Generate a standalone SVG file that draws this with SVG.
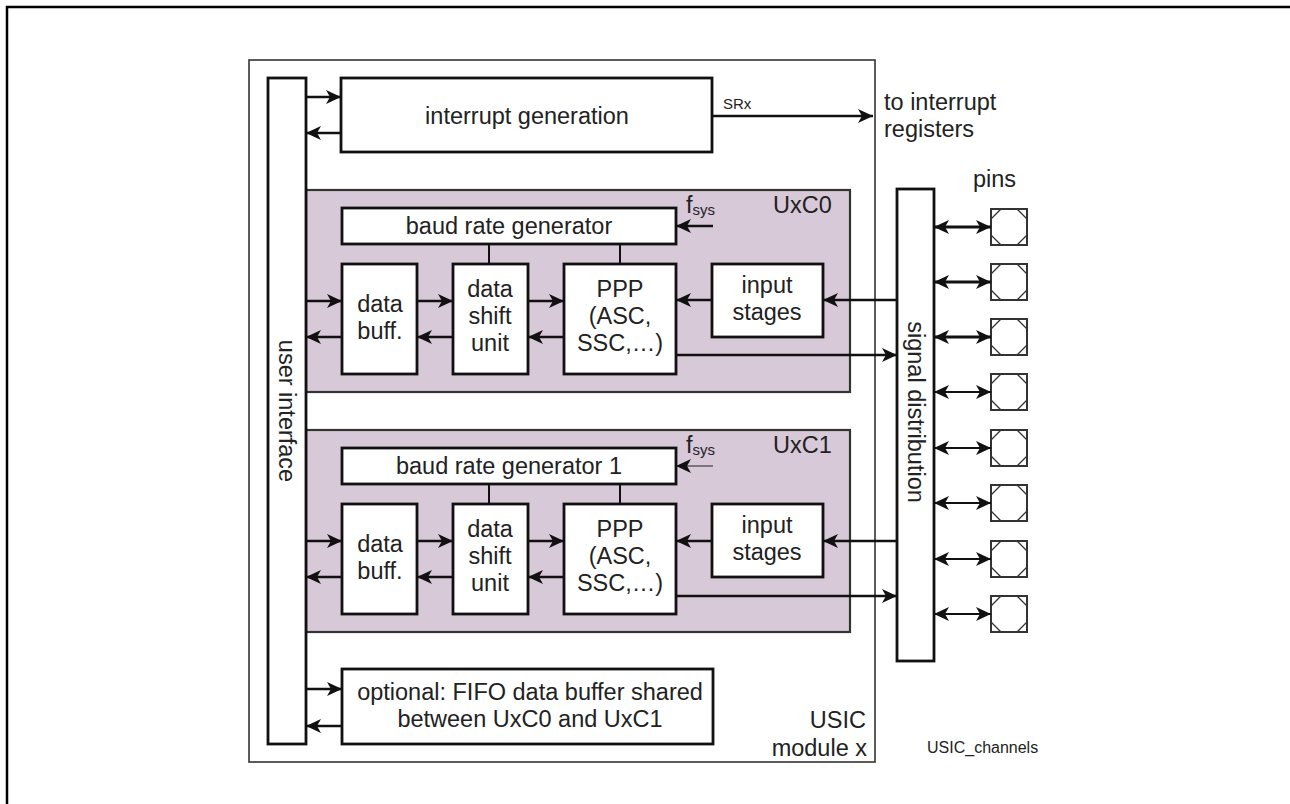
<svg xmlns="http://www.w3.org/2000/svg" width="1290" height="804" viewBox="0 0 1290 804">
<style>
text{font-family:"Liberation Sans",Arial,sans-serif;font-size:23.5px;fill:#222}
.c{text-anchor:middle}
.box{fill:#fff;stroke:#111;stroke-width:2.8}
.ch{fill:#d8c9d8;stroke:#333;stroke-width:2.2}
.ln{fill:none;stroke:#111;stroke-width:2.5}
.thin{fill:none;stroke:#222;stroke-width:1.2}
.pin{fill:#fff;stroke:#333;stroke-width:2}
.oct{fill:none;stroke:#333;stroke-width:1.3}
.sm{font-size:15px}
</style>
<defs>
<marker id="ah" viewBox="0 0 15 14" refX="15" refY="7" markerWidth="15" markerHeight="14" markerUnits="userSpaceOnUse" orient="auto-start-reverse">
<path d="M0,0 L15,7 L0,14 L4,7 z" fill="#111"/>
</marker>
<g id="pinsym">
<rect class="pin" x="0" y="-18" width="36" height="36"/>
<polygon class="oct" points="10,-18 26,-18 36,-8 36,8 26,18 10,18 0,8 0,-8"/>
</g>
</defs>
<rect x="7" y="7" width="1320" height="830" fill="none" stroke="#000" stroke-width="2.5"/>

<g id="usic-module">
<rect x="249" y="60" width="626" height="702" fill="#fff" stroke="#333" stroke-width="1.6"/>
<text x="866" y="728" text-anchor="end">USIC</text>
<text x="867" y="756" text-anchor="end">module x</text>
</g>

<g id="uxc0">
<rect class="ch" x="306" y="190" width="544" height="202"/>
<text x="773" y="213">UxC0</text>
<text x="686" y="213">f<tspan class="sm" dy="2">sys</tspan></text>
</g>
<g id="uxc1">
<rect class="ch" x="306" y="430" width="544" height="202"/>
<text x="773" y="453">UxC1</text>
<text x="686" y="453">f<tspan class="sm" dy="2">sys</tspan></text>
</g>

<g id="user-interface">
<rect class="box" x="268" y="78" width="38" height="666"/>
<text class="c" transform="translate(287,411) rotate(90)" dominant-baseline="central">user interface</text>
</g>

<g id="interrupt-generation">
<rect class="box" x="341" y="78" width="371" height="74"/>
<text class="c" x="527" y="124">interrupt generation</text>
</g>

<g id="baud0">
<rect class="box" x="342" y="208" width="334" height="36"/>
<text class="c" x="509" y="234">baud rate generator</text>
</g>
<g id="databuff0">
<rect class="box" x="342" y="264" width="75" height="110"/>
<text class="c" x="380" y="312">data</text>
<text class="c" x="380" y="339">buff.</text>
</g>
<g id="shift0">
<rect class="box" x="453" y="264" width="75" height="110"/>
<text class="c" x="490" y="297">data</text>
<text class="c" x="490" y="324">shift</text>
<text class="c" x="490" y="351">unit</text>
</g>
<g id="ppp0">
<rect class="box" x="564" y="264" width="112" height="110"/>
<text class="c" x="620" y="297">PPP</text>
<text class="c" x="620" y="324">(ASC,</text>
<text class="c" x="620" y="351">SSC,…)</text>
</g>
<g id="input0">
<rect class="box" x="712" y="264" width="111" height="73"/>
<text class="c" x="767" y="293">input</text>
<text class="c" x="767" y="320">stages</text>
</g>

<g id="baud1">
<rect class="box" x="342" y="448" width="334" height="36"/>
<text class="c" x="509" y="474">baud rate generator 1</text>
</g>
<g id="databuff1">
<rect class="box" x="342" y="504" width="75" height="110"/>
<text class="c" x="380" y="552">data</text>
<text class="c" x="380" y="579">buff.</text>
</g>
<g id="shift1">
<rect class="box" x="453" y="504" width="75" height="110"/>
<text class="c" x="490" y="537">data</text>
<text class="c" x="490" y="564">shift</text>
<text class="c" x="490" y="591">unit</text>
</g>
<g id="ppp1">
<rect class="box" x="564" y="504" width="112" height="110"/>
<text class="c" x="620" y="537">PPP</text>
<text class="c" x="620" y="564">(ASC,</text>
<text class="c" x="620" y="591">SSC,…)</text>
</g>
<g id="input1">
<rect class="box" x="712" y="504" width="111" height="73"/>
<text class="c" x="767" y="533">input</text>
<text class="c" x="767" y="560">stages</text>
</g>

<g id="fifo">
<rect class="box" x="342" y="669" width="371" height="75"/>
<text class="c" x="530" y="700">optional: FIFO data buffer shared</text>
<text class="c" x="530" y="727">between UxC0 and UxC1</text>
</g>

<g id="signal-distribution">
<rect class="box" x="897" y="189" width="37" height="472"/>
<text class="c" transform="translate(915.5,412) rotate(90)" dominant-baseline="central">signal distribution</text>
</g>

<g id="pins">
<text x="973" y="187">pins</text>
<use href="#pinsym" x="991" y="227"/>
<use href="#pinsym" x="991" y="282"/>
<use href="#pinsym" x="991" y="337"/>
<use href="#pinsym" x="991" y="392"/>
<use href="#pinsym" x="991" y="448"/>
<use href="#pinsym" x="991" y="503"/>
<use href="#pinsym" x="991" y="559"/>
<use href="#pinsym" x="991" y="614"/>
</g>

<g id="labels">
<text class="sm" x="723" y="109">SRx</text>
<text x="884" y="110">to interrupt</text>
<text x="884" y="137">registers</text>
<text x="927" y="753" style="font-size:16px">USIC_channels</text>
</g>

<g id="connectors">
<line class="ln" x1="306" y1="97" x2="341" y2="97" marker-end="url(#ah)"/>
<line class="ln" x1="341" y1="133" x2="306" y2="133" marker-end="url(#ah)"/>
<line class="ln" x1="712" y1="116" x2="873" y2="116" marker-end="url(#ah)"/>

<line class="ln" x1="489" y1="244" x2="489" y2="264" style="stroke-width:2"/>
<line class="ln" x1="620" y1="244" x2="620" y2="264" style="stroke-width:2"/>
<line class="ln" x1="713" y1="226" x2="676" y2="226" marker-end="url(#ah)"/>
<line class="ln" x1="306" y1="301" x2="342" y2="301" marker-end="url(#ah)"/>
<line class="ln" x1="417" y1="301" x2="453" y2="301" marker-end="url(#ah)"/>
<line class="ln" x1="528" y1="301" x2="564" y2="301" marker-end="url(#ah)"/>
<line class="ln" x1="342" y1="337" x2="306" y2="337" marker-end="url(#ah)"/>
<line class="ln" x1="453" y1="337" x2="417" y2="337" marker-end="url(#ah)"/>
<line class="ln" x1="564" y1="337" x2="528" y2="337" marker-end="url(#ah)"/>
<line class="ln" x1="712" y1="300" x2="676" y2="300" marker-end="url(#ah)"/>
<line class="ln" x1="897" y1="300" x2="823" y2="300" marker-end="url(#ah)"/>
<line class="ln" x1="676" y1="355" x2="897" y2="355" marker-end="url(#ah)"/>

<line class="ln" x1="489" y1="484" x2="489" y2="504" style="stroke-width:2"/>
<line class="ln" x1="620" y1="484" x2="620" y2="504" style="stroke-width:2"/>
<line class="thin" x1="713" y1="466" x2="676" y2="466" marker-end="url(#ah)"/>
<line class="ln" x1="306" y1="541" x2="342" y2="541" marker-end="url(#ah)"/>
<line class="ln" x1="417" y1="541" x2="453" y2="541" marker-end="url(#ah)"/>
<line class="ln" x1="528" y1="541" x2="564" y2="541" marker-end="url(#ah)"/>
<line class="ln" x1="342" y1="577" x2="306" y2="577" marker-end="url(#ah)"/>
<line class="ln" x1="453" y1="577" x2="417" y2="577" marker-end="url(#ah)"/>
<line class="ln" x1="564" y1="577" x2="528" y2="577" marker-end="url(#ah)"/>
<line class="ln" x1="712" y1="541" x2="676" y2="541" marker-end="url(#ah)"/>
<line class="ln" x1="897" y1="541" x2="823" y2="541" marker-end="url(#ah)"/>
<line class="ln" x1="676" y1="596" x2="897" y2="596" marker-end="url(#ah)"/>

<line class="ln" x1="306" y1="689" x2="342" y2="689" marker-end="url(#ah)"/>
<line class="ln" x1="342" y1="726" x2="306" y2="726" marker-end="url(#ah)"/>

<line class="ln" x1="934" y1="227" x2="991" y2="227" marker-start="url(#ah)" marker-end="url(#ah)" style="stroke-width:3"/>
<line class="ln" x1="934" y1="282" x2="991" y2="282" marker-start="url(#ah)" marker-end="url(#ah)" style="stroke-width:3"/>
<line class="ln" x1="934" y1="337" x2="991" y2="337" marker-start="url(#ah)" marker-end="url(#ah)" style="stroke-width:3"/>
<line class="ln" x1="934" y1="392" x2="991" y2="392" marker-start="url(#ah)" marker-end="url(#ah)" style="stroke-width:2.2"/>
<line class="ln" x1="934" y1="448" x2="991" y2="448" marker-start="url(#ah)" marker-end="url(#ah)" style="stroke-width:2.2"/>
<line class="ln" x1="934" y1="503" x2="991" y2="503" marker-start="url(#ah)" marker-end="url(#ah)" style="stroke-width:2.2"/>
<line class="ln" x1="934" y1="559" x2="991" y2="559" marker-start="url(#ah)" marker-end="url(#ah)" style="stroke-width:2.2"/>
<line class="ln" x1="934" y1="614" x2="991" y2="614" marker-start="url(#ah)" marker-end="url(#ah)" style="stroke-width:2.2"/>
</g>
</svg>
